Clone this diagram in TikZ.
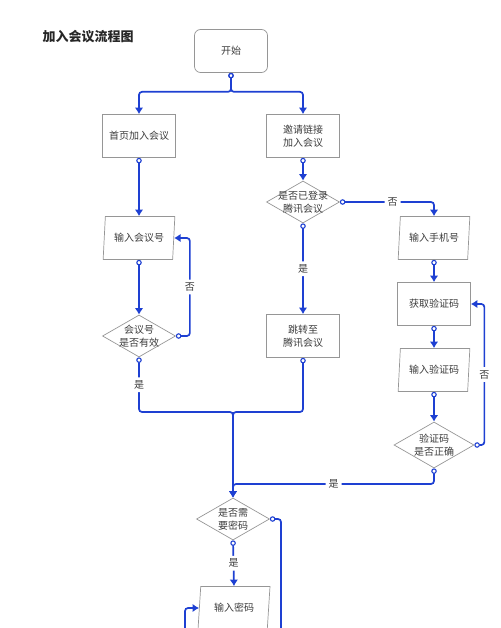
\documentclass[tikz,border=0pt]{standalone}
\usepackage{fontspec}
\setmainfont{Noto Sans CJK SC}
\usepackage{xcolor}
\usetikzlibrary{arrows.meta, shapes.geometric}
\definecolor{flowblue}{RGB}{30,64,210}
\definecolor{boxgray}{RGB}{150,150,150}
\definecolor{txtgray}{RGB}{60,60,60}

\begin{document}
\begin{tikzpicture}[x=1pt, y=-1pt,
    box/.style={draw=boxgray, line width=0.7pt, minimum width=73pt, minimum height=43pt,
        inner sep=0pt, align=center, text=txtgray, font=\fontsize{10}{13}\selectfont},
    startbox/.style={box, rounded corners=6pt},
    iobox/.style={box, trapezium, trapezium left angle=80, trapezium right angle=100,
        trapezium stretches=true, minimum width=72pt},
    decide/.style={box, diamond, aspect=1.74, inner xsep=-10pt, inner ysep=-6pt,
        minimum width=73pt, minimum height=42pt},
    flow/.style={draw=flowblue, line width=1.7pt, rounded corners=3pt,
        {Circle[open, length=5.5pt, width=5.5pt, line width=1.1pt]}-{Latex[length=6.5pt, width=8.5pt]}},
    lbl/.style={fill=white, text=txtgray, font=\fontsize{10}{12}\selectfont, inner sep=3pt}]

    \useasboundingbox (0,0) rectangle (500,628);
    \clip (0,0) rectangle (500,628);

    % 1. Tiêu đề
    \node[font=\fontsize{13}{15}\selectfont\bfseries, text=black!85] (title) at (88,37) {加入会议流程图};

    % 2. Các khối của lưu đồ
    \node[startbox] (start) at (231,51) {开始};
    \node[box] (home) at (139,136) {首页加入会议};
    \node[box] (invite) at (303,136) {邀请链接\\加入会议};

    \node[iobox] (meetno) at (139,238) {输入会议号};
    \node[decide] (valid) at (139,336) {会议号\\是否有效};

    \node[decide] (login) at (303,202) {是否已登录\\腾讯会议};
    \node[box] (jump) at (303,336) {跳转至\\腾讯会议};

    \node[iobox] (phone) at (434,238) {输入手机号};
    \node[box] (code) at (434,304) {获取验证码};
    \node[iobox] (vcode) at (434,370) {输入验证码};
    \node[decide, minimum width=80pt, minimum height=46pt] (verify) at (434,445) {验证码\\是否正确};

    \node[decide] (pwd) at (233,519) {是否需\\要密码};
    \node[iobox] (pwdin) at (234,608) {输入密码};

    % 3. Các điểm nối
    \coordinate (join) at (233,412);
    \coordinate (merge) at (233,484);
    \coordinate (pwdout) at (281,640);
    \coordinate (retry) at (185,640);

    % 4. Mũi tên
    \draw[flow] (start.south) -- ++(0,19) -| (home.north);
    \draw[flow] (start.south) -- ++(0,19) -| (invite.north);

    \draw[flow] (home.south) -- (meetno.north);
    \draw[flow] (meetno.south) -- (valid.north);
    \draw[flow] (valid.east) -- ++(14,0) |- node[pos=0.25, lbl] {否} (meetno.east);
    \draw[flow] (valid.south) |- node[pos=0.25, lbl] {是} (join) -- (pwd.north);

    \draw[flow] (invite.south) -- (login.north);
    \draw[flow] (login.south) -- node[lbl] {是} (jump.north);
    \draw[flow] (jump.south) |- (join) -- (pwd.north);
    \draw[flow] (login.east) -| node[pos=0.28, lbl] {否} (phone.north);

    \draw[flow] (phone.south) -- (code.north);
    \draw[flow] (code.south) -- (vcode.north);
    \draw[flow] (vcode.south) -- (verify.north);
    \draw[flow] (verify.east) -- ++(10,0) |- node[pos=0.25, lbl] {否} (code.east);
    \draw[flow] (verify.south) |- node[pos=0.75, lbl] {是} (merge) -- (pwd.north);

    \draw[flow] (pwd.east) -| (pwdout);
    \draw[flow] (pwd.south) -- node[lbl] {是} (pwdin.north);
    \draw[flow, -{Latex[length=6.5pt, width=8.5pt]}] (retry) |- (pwdin.west);
\end{tikzpicture}
\end{document}
